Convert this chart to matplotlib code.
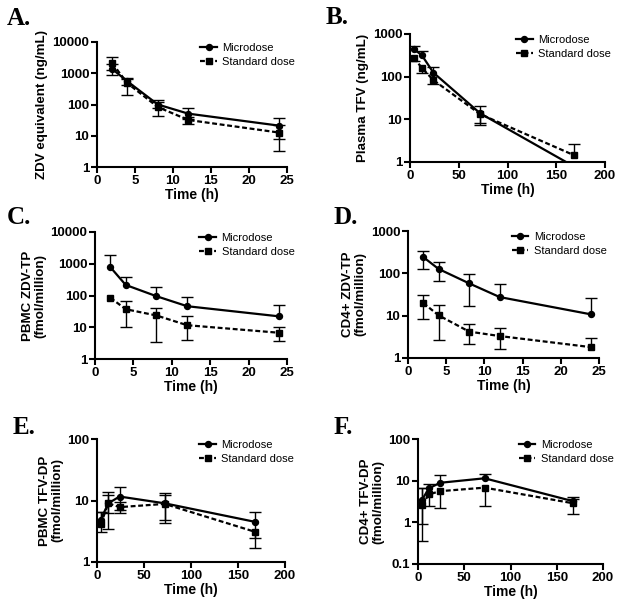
import numpy as np
import matplotlib
matplotlib.use("Agg")
import matplotlib.pyplot as plt
from matplotlib.ticker import FixedLocator, FixedFormatter

nan = np.nan

# ---------------- data ----------------
t_zdv = [2, 4, 8, 12, 24]
t_tfv = [4, 12, 24, 72, 168]

# A: plasma ZDV equivalent (ng/mL)
a_micro = [1370, 550, 100, 51, 21]
a_micro_lo = [850, 420, 75, 35, 8]
a_micro_hi = [2000, 700, 140, 78, 37]
a_std = [2080, 480, 83, 32, 12.6]
a_std_lo = [1300, 205, 42, 23, 3.2]
a_std_hi = [3200, 650, 120, 40, 22]

# B: plasma TFV (ng/mL)
b_micro = [437, 322, 124, 13.8, 0.79]
b_micro_lo = [nan, nan, nan, 8.3, nan]
b_micro_hi = [520, 406, 165, 20, nan]
b_std = [278, 162, 83, 13.2, 1.45]
b_std_lo = [236, 119, 66, 7.3, nan]
b_std_hi = [nan, nan, nan, nan, 2.7]

# C: PBMC ZDV-TP (fmol/million)
c_micro = [780, 215, 95, 46, 22]
c_micro_lo = [nan, nan, nan, nan, nan]
c_micro_hi = [1920, 380, 185, 87, 49]
c_std = [85, 37, 23.5, 11.6, 6.7]
c_std_lo = [nan, 10, 3.5, 4.0, 3.6]
c_std_hi = [nan, 66, 39, 22, 10]

# D: CD4+ ZDV-TP (fmol/million)
d_micro = [242, 127, 58, 27.5, 10.7]
d_micro_lo = [129, 67, 17, nan, nan]
d_micro_hi = [345, 187, 95, 55, 26]
d_std = [19.9, 10.2, 4.2, 3.3, 1.8]
d_std_lo = [8.2, 2.6, 2.2, 1.6, nan]
d_std_hi = [31.3, 18, 6.3, 5.0, 3.0]

# E: PBMC TFV-DP (fmol/million)
e_micro = [4.9, 9.0, 11.6, 9.0, 4.5]
e_micro_lo = [nan, 6.2, 7.0, 4.9, 2.45]
e_micro_hi = [6.5, 14, 16.5, 13, 6.6]
e_std = [4.1, 9.0, 7.8, 8.8, 3.1]
e_std_lo = [3.1, 3.4, 6.2, 4.3, 1.7]
e_std_hi = [6.4, 12.1, 9.5, 12.5, nan]

# F: CD4+ TFV-DP (fmol/million)
f_micro = [3.4, 6.6, 8.9, 11.4, 3.2]
f_micro_lo = [0.93, nan, nan, nan, nan]
f_micro_hi = [6.5, 8.3, 13.4, 14.2, 4.1]
f_std = [2.6, 4.7, 5.6, 6.8, 2.86]
f_std_lo = [0.35, 2.5, 2.2, 2.5, 1.6]
f_std_hi = [6.6, nan, nan, nan, 3.6]

panel_letters = ["A.", "B.", "C.", "D.", "E.", "F."]
ylabels = ["ZDV equivalent (ng/mL)", "Plasma TFV (ng/mL)",
           "PBMC ZDV-TP\n(fmol/million)", "CD4+ ZDV-TP\n(fmol/million)",
           "PBMC TFV-DP\n(fmol/million)", "CD4+ TFV-DP\n(fmol/million)"]
xlabel = "Time (h)"
legend_labels = ["Microdose", "Standard dose"]
xt_zdv = [0, 5, 10, 15, 20, 25]
xt_tfv = [0, 50, 100, 150, 200]
yt_A = ["1", "10", "100", "1000", "10000"]
yt_B = ["1", "10", "100", "1000"]
yt_E = ["1", "10", "100"]
yt_F = ["0.1", "1", "10", "100"]

# ---------------- layout ----------------
W, H = 620, 605
fig = plt.figure(figsize=(W / 100, H / 100), dpi=100)

def px_axes(l, r, t, b):
    return fig.add_axes([l / W, 1 - b / H, (r - l) / W, (b - t) / H])

SANS = "Liberation Sans"
SERIF = "Liberation Serif"

panels = [
    dict(box=(97, 287, 42, 167), t=t_zdv, xt=xt_zdv, yt=yt_A,
         m=(a_micro, a_micro_lo, a_micro_hi), s=(a_std, a_std_lo, a_std_hi),
         letter_xy=(7, 25)),
    dict(box=(410, 605, 34, 162), t=t_tfv, xt=xt_tfv, yt=yt_B,
         m=(b_micro, b_micro_lo, b_micro_hi), s=(b_std, b_std_lo, b_std_hi),
         letter_xy=(326, 24)),
    dict(box=(95, 287, 232, 359), t=t_zdv, xt=xt_zdv, yt=yt_A,
         m=(c_micro, c_micro_lo, c_micro_hi), s=(c_std, c_std_lo, c_std_hi),
         letter_xy=(7, 224)),
    dict(box=(408, 599, 231, 358), t=t_zdv, xt=xt_zdv, yt=yt_B,
         m=(d_micro, d_micro_lo, d_micro_hi), s=(d_std, d_std_lo, d_std_hi),
         letter_xy=(334, 224)),
    dict(box=(97, 285, 439, 562), t=t_tfv, xt=xt_tfv, yt=yt_E,
         m=(e_micro, e_micro_lo, e_micro_hi), s=(e_std, e_std_lo, e_std_hi),
         letter_xy=(13, 434)),
    dict(box=(418, 603, 439, 564), t=t_tfv, xt=xt_tfv, yt=yt_F,
         m=(f_micro, f_micro_lo, f_micro_hi), s=(f_std, f_std_lo, f_std_hi),
         letter_xy=(334, 434)),
]


def draw_err(ax, t, mean, lo, hi):
    t = np.asarray(t, float)
    mean = np.asarray(mean, float)
    for arr in (np.asarray(lo, float), np.asarray(hi, float)):
        msk = ~np.isnan(arr)
        if not msk.any():
            continue
        ax.vlines(t[msk], np.minimum(mean[msk], arr[msk]),
                  np.maximum(mean[msk], arr[msk]), color="black", lw=1.0, zorder=2)
        ax.plot(t[msk], arr[msk], ls="none", marker="_", ms=8, mew=1.0,
                color="black", zorder=2)


for i, p in enumerate(panels):
    ax = px_axes(*p["box"])
    t = p["t"]
    mm, mlo, mhi = p["m"]
    sm, slo, shi = p["s"]
    draw_err(ax, t, mm, mlo, mhi)
    draw_err(ax, t, sm, slo, shi)
    ax.plot(t, mm, color="black", lw=1.6, marker="o", ms=4.3,
            label=legend_labels[0], zorder=3)
    ax.plot(t, sm, color="black", lw=1.6, ls=(0, (2.2, 1.2)), marker="s", ms=4.3,
            label=legend_labels[1], zorder=3)
    ax.set_yscale("log")
    yvals = [float(v) for v in p["yt"]]
    ax.set_ylim(yvals[0], yvals[-1])
    ax.set_xlim(p["xt"][0], p["xt"][-1])
    ax.yaxis.set_major_locator(FixedLocator(yvals))
    ax.yaxis.set_major_formatter(FixedFormatter(p["yt"]))
    ax.yaxis.set_minor_locator(FixedLocator([]))
    ax.set_xticks(p["xt"])
    ax.set_xticklabels([str(v) for v in p["xt"]])
    for s in ("top", "right"):
        ax.spines[s].set_visible(False)
    for s in ("left", "bottom"):
        ax.spines[s].set_linewidth(1.5)
    ax.tick_params(axis="both", which="major", length=4, width=1.5,
                   direction="out", pad=1.5)
    for lab in ax.get_xticklabels() + ax.get_yticklabels():
        lab.set_fontfamily(SANS)
        lab.set_fontweight("bold")
        lab.set_fontsize(9.5)
    ax.set_xlabel(xlabel, fontfamily=SANS, fontweight="bold", fontsize=10, labelpad=1)
    ax.set_ylabel(ylabels[i], fontfamily=SANS, fontweight="bold", fontsize=9.6,
                  labelpad=3, linespacing=1.05)
    leg = ax.legend(loc="upper left", bbox_to_anchor=(0.52, 1.03), frameon=False,
                    prop={"family": SANS, "size": 8}, handlelength=1.5,
                    handletextpad=0.5, labelspacing=0.4, borderaxespad=0)
    lx, ly = p["letter_xy"]
    fig.text(lx / W, 1 - ly / H, panel_letters[i], fontfamily=SERIF,
             fontweight="bold", fontsize=18, ha="left", va="baseline")

fig.savefig("out.png", dpi=100)
